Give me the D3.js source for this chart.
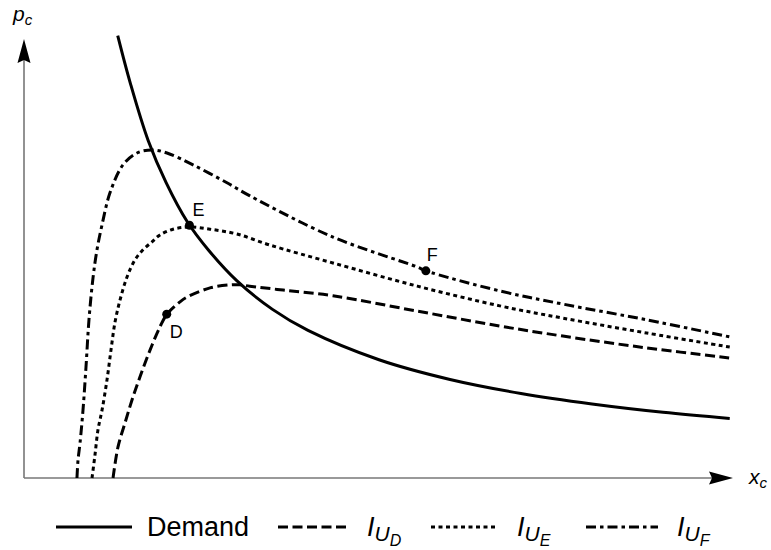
<!DOCTYPE html>
<html>
<head>
<meta charset="utf-8">
<script src="https://cdn.jsdelivr.net/npm/d3@7"></script>
<style>
  html, body { margin: 0; padding: 0; background: #fff; }
  svg { display: block; font-family: "Liberation Sans", Arial, Helvetica, sans-serif; }
</style>
</head>
<body>
<svg id="chart" width="771" height="550"></svg>
<script>
// Demand curve (quantity x_c, price p_c)
const demandX = [1.32, 1.5, 1.75, 2.0, 2.3, 2.6, 3.0, 3.5, 4.0, 5.0, 6.0, 7.0, 8.0, 9.0, 9.94];
const demandP = [10.1, 9.0, 7.7, 6.75, 5.85, 5.2, 4.5, 3.85, 3.37, 2.7, 2.25, 1.93, 1.69, 1.5, 1.36];

// Indifference curve I_{U_D}
const iudX = [1.254, 1.324, 1.423, 1.521, 1.634, 1.775, 1.915, 2.014, 2.197, 2.296, 2.62, 2.90, 3.04, 3.18, 3.65, 4.35, 5.54, 6.70, 7.59, 8.77, 9.94];
const iudP = [0.0, 0.71, 1.26, 1.78, 2.31, 2.92, 3.45, 3.74, 4.02, 4.13, 4.34, 4.41, 4.41, 4.38, 4.29, 4.16, 3.81, 3.47, 3.24, 2.97, 2.74];

// Indifference curve I_{U_E}
const iueX = [0.958, 1.0, 1.042, 1.099, 1.169, 1.225, 1.282, 1.352, 1.451, 1.563, 1.676, 1.803, 1.915, 2.099, 2.324, 2.62, 3.0, 3.46, 4.35, 5.54, 6.70, 7.59, 8.77, 9.94];
const iueP = [0.0, 0.53, 1.10, 1.55, 2.24, 2.92, 3.56, 4.06, 4.59, 4.98, 5.21, 5.39, 5.55, 5.68, 5.73, 5.68, 5.57, 5.32, 4.91, 4.38, 3.93, 3.65, 3.31, 2.99];

// Indifference curve I_{U_F}
const iufX = [0.746, 0.761, 0.789, 0.831, 0.873, 0.915, 0.972, 1.028, 1.099, 1.211, 1.394, 1.592, 1.803, 2.014, 2.380, 2.859, 3.183, 4.352, 5.535, 5.662, 6.704, 7.592, 8.775, 9.944];
const iufP = [0.0, 0.41, 0.80, 1.55, 2.53, 3.61, 4.57, 5.21, 5.78, 6.51, 7.15, 7.42, 7.49, 7.42, 7.15, 6.74, 6.44, 5.50, 4.82, 4.73, 4.27, 3.97, 3.61, 3.22];

// Marked bundles
const pointNames = ["D", "E", "F"];
const pointX = [2.01, 2.33, 5.66];
const pointP = [3.74, 5.77, 4.73];

// Legend entries
const legendNames = ["Demand", "I_UD", "I_UE", "I_UF"];
const legendSubs = [null, "D", "E", "F"];

const svg = d3.select("#chart");

const x = d3.scaleLinear().domain([0, 10]).range([24, 734]);
const y = d3.scaleLinear().domain([0, 10]).range([478, 40]);

const zip = (xs, ys) => xs.map((v, i) => [v, ys[i]]);

const line = d3.line()
  .x(d => x(d[0]))
  .y(d => y(d[1]))
  .curve(d3.curveCatmullRom.alpha(0.5));

// Axes: thin grey lines with black arrowheads
const axisColor = "#777";
const x0 = x(0), y0 = y(0);
svg.append("line")
  .attr("x1", x0).attr("y1", y0)
  .attr("x2", x0).attr("y2", 60)
  .attr("stroke", axisColor).attr("stroke-width", 1.6);
svg.append("line")
  .attr("x1", x0).attr("y1", y0)
  .attr("x2", 714).attr("y2", y0)
  .attr("stroke", axisColor).attr("stroke-width", 1.6);

// Arrowheads
const tipY = 39, tipX = 733;
svg.append("path")
  .attr("d", `M${x0},${tipY} L${x0 + 6.5},${tipY + 24} L${x0},${tipY + 21} L${x0 - 6.5},${tipY + 24} Z`)
  .attr("fill", "#000");
svg.append("path")
  .attr("d", `M${tipX},${y0} L${tipX - 24},${y0 + 6.5} L${tipX - 21},${y0} L${tipX - 24},${y0 - 6.5} Z`)
  .attr("fill", "#000");

// Axis titles
const yTitle = svg.append("text")
  .attr("x", 13).attr("y", 21)
  .attr("font-size", 21).attr("font-style", "italic");
yTitle.append("tspan").text("p");
yTitle.append("tspan").attr("font-size", 15).attr("dy", 4).text("c");

const xTitle = svg.append("text")
  .attr("x", 749).attr("y", 484)
  .attr("font-size", 21).attr("font-style", "italic");
xTitle.append("tspan").text("x");
xTitle.append("tspan").attr("font-size", 15).attr("dy", 4).text("c");

// Curves
const styles = [
  { data: zip(demandX, demandP), dash: null },
  { data: zip(iudX, iudP), dash: "10,4.5" },
  { data: zip(iueX, iueP), dash: "4,3.5" },
  { data: zip(iufX, iufP), dash: "10,4,3.5,4" }
];

styles.forEach(s => {
  svg.append("path")
    .datum(s.data)
    .attr("d", line)
    .attr("fill", "none")
    .attr("stroke", "#000")
    .attr("stroke-width", 3)
    .attr("stroke-dasharray", s.dash);
});

// Points and labels
const labelOffsets = [[3, 24], [3, -9], [1, -10]];
pointNames.forEach((name, i) => {
  svg.append("circle")
    .attr("cx", x(pointX[i])).attr("cy", y(pointP[i]))
    .attr("r", 4.5).attr("fill", "#000");
  svg.append("text")
    .attr("x", x(pointX[i]) + labelOffsets[i][0])
    .attr("y", y(pointP[i]) + labelOffsets[i][1])
    .attr("font-size", 18)
    .text(name);
});

// Legend
const legendY = 527;
const legendItems = [
  { lx: 56, len: 76, tx: 147 },
  { lx: 278, len: 72, tx: 367 },
  { lx: 431, len: 67, tx: 517 },
  { lx: 586, len: 72, tx: 677 }
];
legendItems.forEach((it, i) => {
  svg.append("line")
    .attr("x1", it.lx).attr("x2", it.lx + it.len)
    .attr("y1", legendY).attr("y2", legendY)
    .attr("stroke", "#000").attr("stroke-width", 3)
    .attr("stroke-dasharray", styles[i].dash);
  const t = svg.append("text")
    .attr("x", it.tx).attr("y", legendY + 9)
    .attr("font-size", 27);
  if (legendSubs[i] === null) {
    t.text(legendNames[i]);
  } else {
    t.attr("font-style", "italic");
    t.append("tspan").text("I");
    t.append("tspan").attr("font-size", 21).attr("dy", 5).text("U");
    t.append("tspan").attr("font-size", 16).attr("dy", 5).text(legendSubs[i]);
  }
});
</script>
</body>
</html>
